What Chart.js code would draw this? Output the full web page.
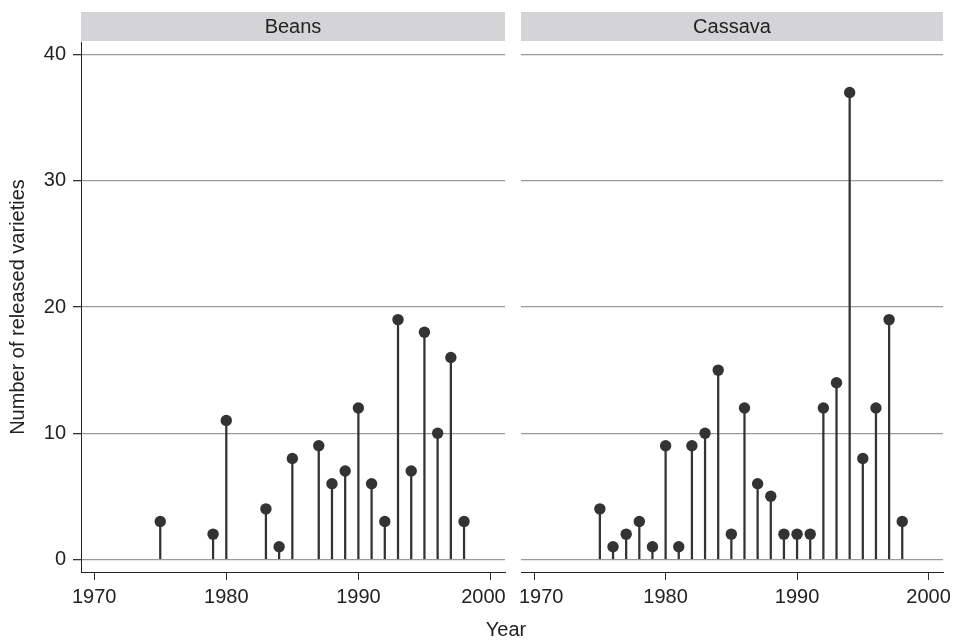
<!DOCTYPE html>
<html>
<head>
<meta charset="utf-8">
<script src="https://cdn.jsdelivr.net/npm/chart.js@4.4.1/dist/chart.umd.min.js"></script>
<style>
  html, body { margin: 0; padding: 0; background: #fff; }
  #wrap { position: relative; width: 956px; height: 640px; }
  canvas { position: absolute; top: 0; }
  #left { left: 0; }
  #right { left: 504px; }
  #xtitle {
    position: absolute; left: 0; width: 1012px; top: 618px; text-align: center;
    font: 20px "Liberation Sans", Arial, sans-serif; color: #222;
  }
</style>
</head>
<body>
<div id="wrap">
  <canvas id="left" width="520" height="640"></canvas>
  <canvas id="right" width="452" height="640"></canvas>
  <div id="xtitle">Year</div>
</div>
<script>
// ── Data ─────────────────────────────────────────────
const beansYears  = [1975, 1979, 1980, 1983, 1984, 1985, 1987, 1988, 1989, 1990, 1991, 1992, 1993, 1994, 1995, 1996, 1997, 1998];
const beansCounts = [3, 2, 11, 4, 1, 8, 9, 6, 7, 12, 6, 3, 19, 7, 18, 10, 16, 3];

const cassavaYears  = [1975, 1976, 1977, 1978, 1979, 1980, 1981, 1982, 1983, 1984, 1985, 1986, 1987, 1988, 1989, 1990, 1991, 1992, 1993, 1994, 1995, 1996, 1997, 1998];
const cassavaCounts = [4, 1, 2, 3, 1, 9, 1, 9, 10, 15, 2, 12, 6, 5, 2, 2, 2, 12, 14, 37, 8, 12, 19, 3];

const xTicks = [1970, 1980, 1990, 2000];
const yTicks = [0, 10, 20, 30, 40];

const FONT = "'Liberation Sans', Arial, sans-serif";
const INK = "#333";

// facet strip above each panel
const stripPlugin = {
  id: "strip",
  beforeDraw(chart, args, opts) {
    const { ctx, chartArea } = chart;
    ctx.save();
    ctx.fillStyle = "#d4d4d6";
    ctx.fillRect(chartArea.left, 12, chartArea.right - chartArea.left, 29);
    ctx.fillStyle = "#222";
    ctx.font = "20px " + FONT;
    ctx.textAlign = "center";
    ctx.textBaseline = "middle";
    ctx.fillText(opts.label, (chartArea.left + chartArea.right) / 2, 27);
    ctx.restore();
  },
};

// the labels where the two panels meet are nudged apart a little
function yearLabel(side) {
  return (v) => {
    if (side === "left" && v === 2000) return v + "\u2002\u2009";
    if (side === "right" && v === 1970) return "\u2002\u2009" + v;
    return String(v);
  };
}

function makePanel(id, label, years, counts, withYAxis, padding) {
  const pts = years.map((y, i) => ({ x: y, y: counts[i] }));
  return new Chart(document.getElementById(id), {
    type: "bar",
    data: {
      datasets: [
        {
          type: "scatter",
          data: pts,
          pointRadius: 5.7,
          pointBackgroundColor: INK,
          pointBorderColor: INK,
          pointBorderWidth: 0,
          order: 0,
        },
        {
          type: "bar",
          data: pts,
          backgroundColor: INK,
          barThickness: 1.6,
          order: 1,
        },
      ],
    },
    options: {
      responsive: false,
      animation: false,
      layout: { padding },
      plugins: {
        legend: { display: false },
        tooltip: { enabled: false },
        strip: { label },
      },
      scales: {
        x: {
          type: "linear",
          offset: false,
          min: 1969,
          max: 2001.1,
          afterBuildTicks: (s) => { s.ticks = xTicks.map((v) => ({ value: v })); },
          afterFit: (s) => { s.height = 68; s.paddingLeft = 0; s.paddingRight = 0; },
          ticks: {
            font: { family: FONT, size: 20 }, color: "#222", padding: 5, maxRotation: 0,
            callback: yearLabel(withYAxis ? "left" : "right"),
          },
          grid: { offset: false, drawOnChartArea: false, tickLength: 8, color: INK, tickColor: INK },
          border: { display: true, color: "#222", width: 1 },
        },
        y: {
          min: -1,
          max: 41,
          afterBuildTicks: (s) => { s.ticks = yTicks.map((v) => ({ value: v })); },
          afterFit: (s) => { s.width = withYAxis ? 81 : 0; },
          ticks: { display: withYAxis, font: { family: FONT, size: 20 }, color: "#222", padding: 7 },
          grid: { color: "#9a9a9a", lineWidth: 1.3, drawTicks: withYAxis, tickLength: 8, tickColor: INK },
          border: { display: withYAxis, color: "#222", width: 1 },
          title: {
            display: withYAxis,
            text: "Number of released varieties",
            font: { family: FONT, size: 20 },
            color: "#222",
            padding: { top: 6, bottom: 0 },
          },
        },
      },
    },
    plugins: [stripPlugin],
  });
}

makePanel("left", "Beans", beansYears, beansCounts, true, { top: 42, right: 15, left: 0, bottom: 0 });
makePanel("right", "Cassava", cassavaYears, cassavaCounts, false, { top: 42, right: 13, left: 17, bottom: 0 });
</script>
</body>
</html>
